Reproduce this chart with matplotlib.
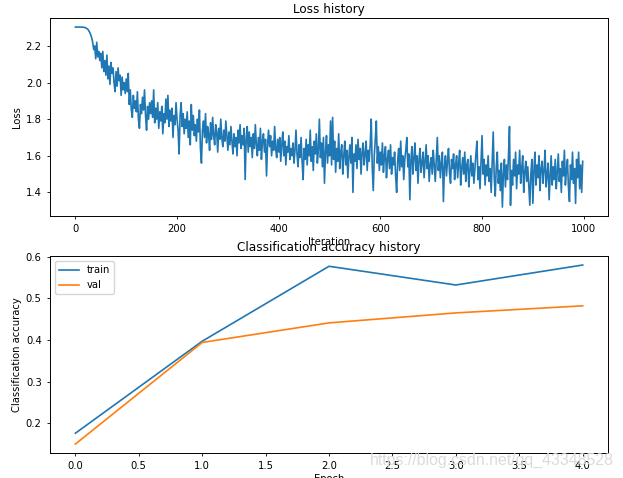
import matplotlib
matplotlib.use('Agg')
import matplotlib.pyplot as plt
import numpy as np

# loss, one value every 2 iterations (0, 2, ..., 998)
loss_history = [
    2.303, 2.303, 2.303, 2.303, 2.303, 2.303, 2.303, 2.302, 2.302, 2.301, 2.299, 2.296, 2.292, 2.285, 2.275, 2.262, 2.245, 2.22, 2.18, 2.2, 2.13, 2.22, 2.14, 2.17, 2.12,
    2.16, 2.08, 2.17, 2.06, 2.12, 2.04, 2.15, 2.02, 2.09, 1.99, 2.11, 2.05, 2.08, 2.0, 1.95, 2.06, 1.98, 2.08, 2.01, 2.04, 1.93, 2.03, 1.96, 2.0, 1.94,
    2.02, 1.95, 2.05, 1.88, 1.96, 1.85, 1.81, 1.93, 1.86, 1.9, 1.84, 1.95, 1.8, 1.75, 1.88, 1.83, 1.92, 1.85, 1.96, 1.82, 1.74, 1.87, 1.8, 1.89, 1.83,
    1.9, 1.81, 1.96, 1.78, 1.86, 1.8, 1.89, 1.75, 1.84, 1.79, 1.87, 1.72, 1.83, 1.78, 1.91, 1.8, 1.93, 1.76, 1.85, 1.79, 1.86, 1.7, 1.82, 1.77, 1.89,
    1.8, 1.74, 1.61, 1.82, 1.89, 1.76, 1.83, 1.72, 1.8, 1.75, 1.84, 1.7, 1.79, 1.66, 1.88, 1.74, 1.82, 1.71, 1.77, 1.68, 1.8, 1.73, 1.85, 1.64, 1.56,
    1.74, 1.79, 1.7, 1.83, 1.67, 1.76, 1.72, 1.63, 1.78, 1.69, 1.81, 1.71, 1.66, 1.77, 1.73, 1.62, 1.75, 1.69, 1.8, 1.7, 1.65, 1.74, 1.68, 1.79, 1.71,
    1.63, 1.73, 1.66, 1.76, 1.68, 1.61, 1.72, 1.65, 1.7, 1.6, 1.74, 1.67, 1.77, 1.64, 1.71, 1.66, 1.75, 1.47, 1.69, 1.76, 1.62, 1.73, 1.65, 1.7, 1.59,
    1.72, 1.64, 1.77, 1.66, 1.6, 1.7, 1.63, 1.75, 1.58, 1.68, 1.72, 1.62, 1.69, 1.49, 1.66, 1.74, 1.65, 1.71, 1.6, 1.68, 1.63, 1.76, 1.64, 1.59, 1.69,
    1.62, 1.7, 1.57, 1.66, 1.73, 1.6, 1.68, 1.55, 1.65, 1.62, 1.71, 1.58, 1.64, 1.6, 1.67, 1.56, 1.63, 1.74, 1.61, 1.54, 1.66, 1.59, 1.7, 1.57, 1.47,
    1.64, 1.58, 1.69, 1.55, 1.66, 1.6, 1.74, 1.57, 1.65, 1.52, 1.68, 1.61, 1.72, 1.56, 1.63, 1.8, 1.59, 1.67, 1.54, 1.7, 1.45, 1.62, 1.71, 1.56, 1.66,
    1.6, 1.79, 1.55, 1.81, 1.58, 1.68, 1.51, 1.64, 1.57, 1.72, 1.53, 1.62, 1.66, 1.5, 1.6, 1.68, 1.55, 1.63, 1.48, 1.59, 1.66, 1.56, 1.7, 1.4, 1.61,
    1.57, 1.66, 1.53, 1.69, 1.58, 1.64, 1.5, 1.62, 1.67, 1.55, 1.61, 1.68, 1.52, 1.63, 1.57, 1.66, 1.8, 1.54, 1.41, 1.6, 1.69, 1.79, 1.56, 1.65, 1.52,
    1.62, 1.55, 1.67, 1.51, 1.6, 1.65, 1.48, 1.58, 1.63, 1.53, 1.66, 1.5, 1.59, 1.55, 1.62, 1.49, 1.4, 1.57, 1.64, 1.52, 1.68, 1.54, 1.6, 1.47, 1.58,
    1.63, 1.7, 1.54, 1.61, 1.36, 1.57, 1.65, 1.5, 1.59, 1.67, 1.52, 1.6, 1.45, 1.58, 1.64, 1.51, 1.56, 1.62, 1.48, 1.57, 1.66, 1.53, 1.6, 1.46, 1.55,
    1.59, 1.5, 1.63, 1.55, 1.46, 1.58, 1.7, 1.52, 1.6, 1.48, 1.56, 1.62, 1.35, 1.54, 1.6, 1.49, 1.57, 1.64, 1.51, 1.45, 1.58, 1.53, 1.61, 1.47, 1.55,
    1.6, 1.48, 1.56, 1.63, 1.44, 1.53, 1.59, 1.5, 1.62, 1.46, 1.55, 1.58, 1.43, 1.52, 1.6, 1.49, 1.56, 1.45, 1.53, 1.61, 1.68, 1.47, 1.54, 1.42, 1.57,
    1.71, 1.5, 1.58, 1.44, 1.55, 1.49, 1.6, 1.46, 1.53, 1.4, 1.57, 1.73, 1.48, 1.38, 1.54, 1.62, 1.45, 1.52, 1.41, 1.56, 1.32, 1.5, 1.58, 1.43, 1.55,
    1.47, 1.6, 1.76, 1.33, 1.52, 1.44, 1.58, 1.49, 1.62, 1.42, 1.55, 1.5, 1.63, 1.45, 1.53, 1.6, 1.4, 1.51, 1.57, 1.46, 1.54, 1.43, 1.33, 1.5, 1.58,
    1.34, 1.52, 1.62, 1.44, 1.55, 1.48, 1.6, 1.41, 1.53, 1.57, 1.45, 1.52, 1.63, 1.43, 1.5, 1.56, 1.36, 1.49, 1.6, 1.44, 1.54, 1.47, 1.58, 1.42, 1.51,
    1.61, 1.46, 1.53, 1.4, 1.57, 1.49, 1.63, 1.44, 1.52, 1.58, 1.43, 1.35, 1.55, 1.47, 1.62, 1.45, 1.53, 1.34, 1.58, 1.48, 1.62, 1.42, 1.55, 1.4, 1.57,
]
iterations = np.arange(0, 1000, 2)

epochs = [0, 1, 2, 3, 4]
train_acc = [0.176, 0.397, 0.577, 0.532, 0.580]
val_acc = [0.150, 0.394, 0.441, 0.465, 0.482]

plt.rcParams['font.size'] = 7.2
plt.rcParams['axes.linewidth'] = 0.7
plt.rcParams['xtick.major.size'] = 2.5
plt.rcParams['ytick.major.size'] = 2.5
plt.rcParams['xtick.major.width'] = 0.6
plt.rcParams['ytick.major.width'] = 0.6

fig = plt.figure(figsize=(6.23, 4.78), dpi=100)

ax1 = fig.add_axes([0.0803, 0.548, 0.8957, 0.4142])
ax1.plot(iterations, loss_history, color='#1f77b4', lw=1.2)
ax1.set_title('Loss history', fontsize=8.64, pad=4)
ax1.set_xlabel('Iteration', labelpad=2)
ax1.set_ylabel('Loss', labelpad=3)

ax2 = fig.add_axes([0.0803, 0.0523, 0.8957, 0.412])
ax2.plot(epochs, train_acc, label='train', color='#1f77b4', lw=1.2)
ax2.plot(epochs, val_acc, label='val', color='#ff7f0e', lw=1.2)
ax2.set_title('Classification accuracy history', fontsize=8.64, pad=4)
ax2.set_xlabel('Epoch', labelpad=2)
ax2.set_ylabel('Classification accuracy', labelpad=3)
ax2.legend(loc='upper left')

# csdn watermark
fig.text(0.594, 0.027, 'https://blog.csdn.net/qq_43348528', fontsize=11.4,
         family='Liberation Sans', color='#d8d8d8', alpha=0.9, zorder=10)

fig.savefig('out.png', dpi=100)
